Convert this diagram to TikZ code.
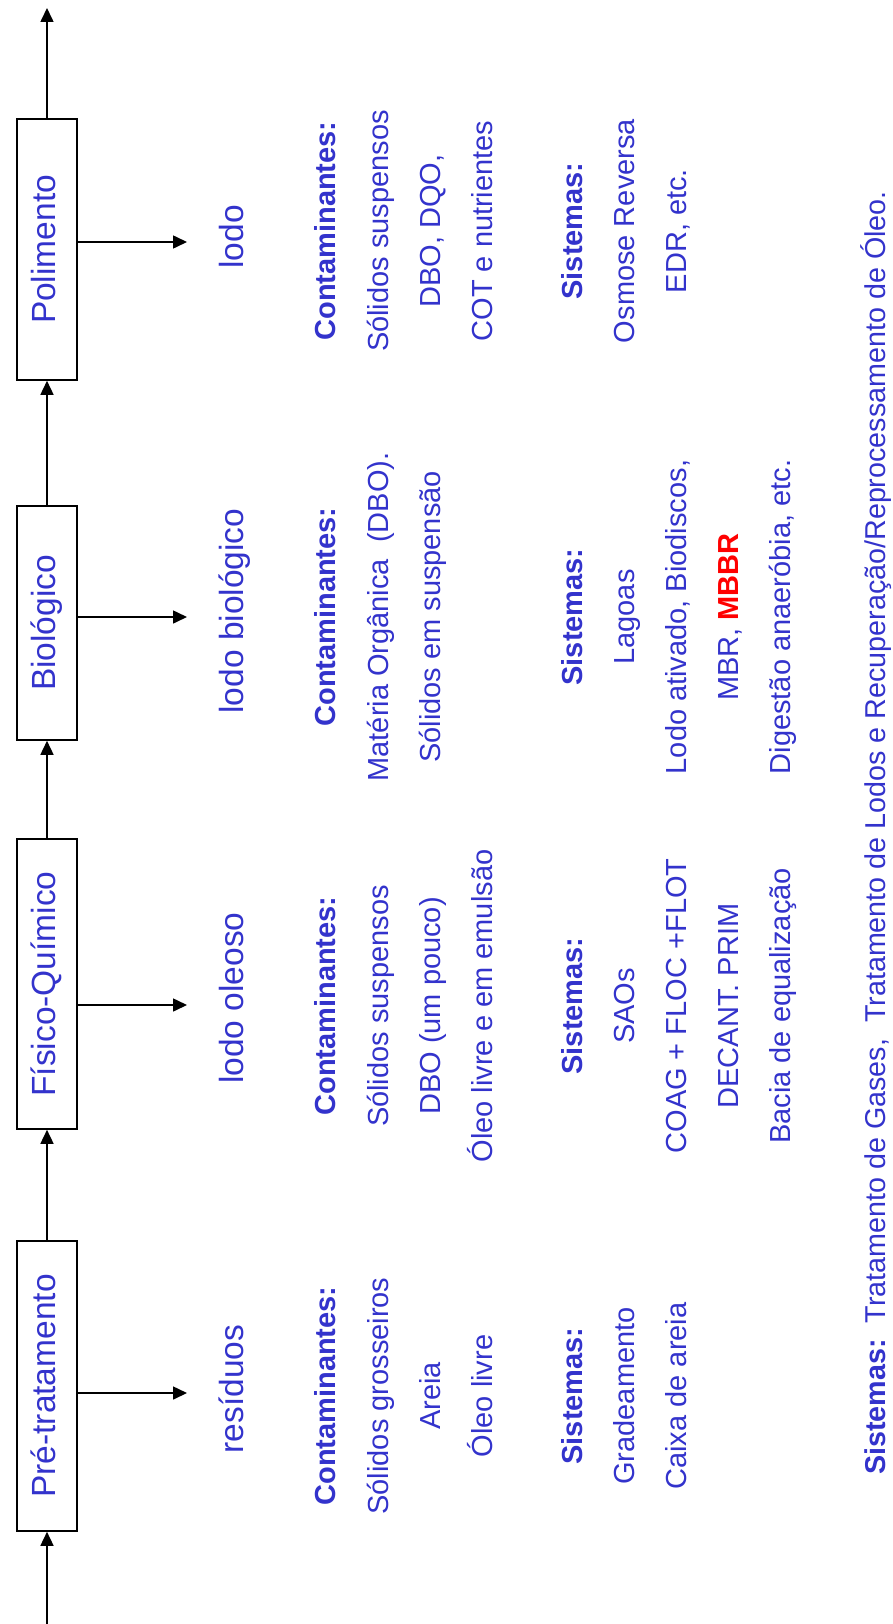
\documentclass[tikz,border=0pt]{standalone}
\usepackage{fontspec}
\setmainfont{Liberation Sans}
\usetikzlibrary{arrows.meta}
\definecolor{azul}{RGB}{51,51,204}
\tikzset{
  seta/.style={line width=1.6pt, -{Triangle[length=14pt,width=13pt]}},
  etapa/.style={draw, line width=1.6pt, rotate=90, inner sep=0pt, minimum height=60pt,
    text=azul, font=\fontsize{33.5}{40}\selectfont, text height=24pt, text depth=7.4pt},
  saida/.style={rotate=90, anchor=base, text=azul, font=\fontsize{33.5}{40}\selectfont},
  linha/.style={rotate=90, anchor=base, text=azul, font=\fontsize{29}{35}\selectfont},
  titulo/.style={linha, font=\fontsize{29}{35}\selectfont\bfseries}
}
\begin{document}
\begin{tikzpicture}[x=1pt, y=-1pt]
    \useasboundingbox (0,0) rectangle (893,1624);
    % etapas do tratamento
    \node[etapa, minimum width=290pt] (pre) at (47,1386) {Pré-tratamento};
    \node[etapa, minimum width=290pt] (fis) at (47,984) {Físico-Químico};
    \node[etapa, minimum width=234pt] (bio) at (47,623) {Biológico};
    \node[etapa, minimum width=261pt] (pol) at (47,249.5) {Polimento};
    \coordinate (entrada) at (47,1624);
    \coordinate (fim) at (47,8);
    \draw[seta] (entrada) -- (pre.west);
    \draw[seta] (pre.east) -- (fis.west);
    \draw[seta] (fis.east) -- (bio.west);
    \draw[seta] (bio.east) -- (pol.west);
    \draw[seta] (pol.east) -- (fim);
    % saidas laterais
    \coordinate (sPre) at (187,1393);
    \coordinate (sFis) at (187,1005);
    \coordinate (sBio) at (187,617);
    \coordinate (sPol) at (187,242);
    \draw[seta] (pre.south |- sPre) -- (sPre);
    \draw[seta] (fis.south |- sFis) -- (sFis);
    \draw[seta] (bio.south |- sBio) -- (sBio);
    \draw[seta] (pol.south |- sPol) -- (sPol);
    \node[saida] (lPre) at (243,1389) {resíduos};
    \node[saida] (lFis) at (243,998) {lodo oleoso};
    \node[saida] (lBio) at (243,611) {lodo biológico};
    \node[saida] (lPol) at (243,237) {lodo};
    % Pre-tratamento
    \node[titulo] (cPre) at (335,1396) {Contaminantes:};
    \foreach \t [count=\i] in {Sólidos grosseiros, Areia, Óleo livre}
      \node[linha] (cPre\i) at (336+52*\i,1396) {\t};
    \node[titulo] (sPre) at (582,1396) {Sistemas:};
    \foreach \t [count=\i] in {Gradeamento, Caixa de areia}
      \node[linha] (sPre\i) at (582+52*\i,1396) {\t};
    % Fisico-Quimico
    \node[titulo] (cFis) at (335,1006) {Contaminantes:};
    \foreach \t [count=\i] in {Sólidos suspensos, DBO (um pouco), Óleo livre e em emulsão}
      \node[linha] (cFis\i) at (336+52*\i,1006) {\t};
    \node[titulo] (sFis) at (582,1006) {Sistemas:};
    \foreach \t [count=\i] in {SAOs, COAG + FLOC +FLOT, DECANT. PRIM, Bacia de equalização}
      \node[linha] (sFis\i) at (582+52*\i,1006) {\t};
    % Biologico
    \node[titulo] (cBio) at (335,617) {Contaminantes:};
    \foreach \t [count=\i] in {Matéria Orgânica\ \ (DBO)., Sólidos em suspensão}
      \node[linha] (cBio\i) at (336+52*\i,617) {\t};
    \node[titulo] (sBio) at (582,617) {Sistemas:};
    \foreach \t [count=\i] in {Lagoas, {Lodo ativado, Biodiscos,},
        {MBR, \textcolor{red}{\bfseries MBBR}}, {Digestão anaeróbia, etc.}}
      \node[linha] (sBio\i) at (582+52*\i,617) {\t};
    % Polimento
    \node[titulo] (cPol) at (335,231) {Contaminantes:};
    \foreach \t [count=\i] in {Sólidos suspensos, {DBO, DQO,}, COT e nutrientes}
      \node[linha] (cPol\i) at (336+52*\i,231) {\t};
    \node[titulo] (sPol) at (582,231) {Sistemas:};
    \foreach \t [count=\i] in {Osmose Reversa, {EDR, etc.}}
      \node[linha] (sPol\i) at (582+52*\i,231) {\t};
    % rodape
    \node[linha, font=\fontsize{28.7}{34}\selectfont] (rodape) at (885,833) {\textbf{Sistemas:}\ \ Tratamento de Gases,\ \ Tratamento de Lodos e Recuperação/Reprocessamento de Óleo.};
\end{tikzpicture}
\end{document}
